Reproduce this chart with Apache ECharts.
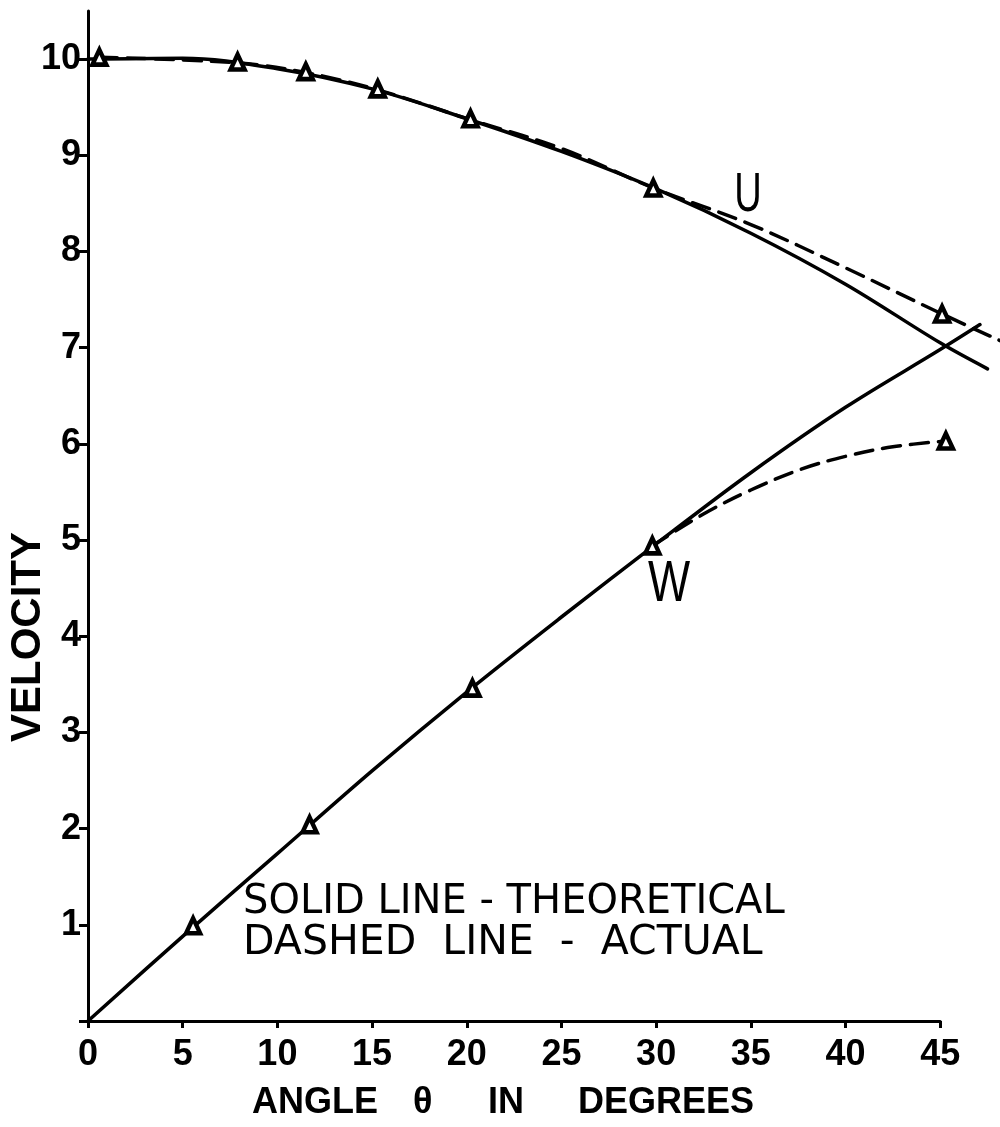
<!DOCTYPE html>
<html>
<head>
<meta charset="utf-8">
<script src="https://cdn.jsdelivr.net/npm/echarts@6/dist/echarts.min.js"></script>
<style>
  html, body { margin: 0; padding: 0; background: #fff; }
  #chart { width: 1000px; height: 1127px; }
</style>
</head>
<body>
<div id="chart"></div>
<script>
// Velocity components U and W against angle θ (degrees)

// theoretical curves (solid)
const uTheoryAngle = [0, 5, 10, 15, 20, 25, 30, 35, 40, 45, 47.5];
const uTheory      = [10.0, 10.01, 9.90, 9.69, 9.38, 9.04, 8.65, 8.19, 7.66, 7.05, 6.78];
const wTheoryAngle = [0, 5, 10, 15, 20, 25, 30, 35, 40, 45, 47.1];
const wTheory      = [0, 0.88, 1.74, 2.60, 3.42, 4.20, 4.96, 5.70, 6.38, 6.98, 7.24];

// measured points (triangles)
const uMeasAngle = [0.6, 7.9, 11.5, 15.3, 20.2, 29.85, 45.1];
const uMeas      = [10.02, 9.97, 9.87, 9.69, 9.38, 8.66, 7.35];
const wMeasAngle = [5.55, 11.7, 20.3, 29.8, 45.3];
const wMeas      = [0.99, 2.04, 3.46, 4.94, 6.03];

// actual curves (dashed) drawn through the measured points
const uActualAngle = [0.6, 7.9, 11.5, 15.3, 20.2, 25, 29.85, 35, 40, 45.1, 48.2];
const uActual      = [10.02, 9.96, 9.86, 9.68, 9.37, 9.07, 8.66, 8.28, 7.83, 7.35, 7.07];
const wActualAngle = [29.8, 32.5, 35, 37.7, 40, 42.5, 45.3];
const wActual      = [4.94, 5.27, 5.52, 5.74, 5.87, 5.97, 6.03];

// axis ranges and ticks
const xTickStep = 5, xLast = 45, xPlotMax = 48;
const yTickStep = 1, yLast = 10, yPlotMax = 10.5;

const zip = (xs, ys) => xs.map((x, i) => [x, ys[i]]);

// plot area in pixels
const PL = 88, PT = 11, PW = 909, PH = 1010;
const pxPerX = PW / xPlotMax, pxPerY = PH / yPlotMax;

const INK = '#000';
const tickFont = { fontFamily: 'Liberation Sans', fontWeight: 'bold', fontSize: 36, color: INK };

const chart = echarts.init(document.getElementById('chart'), null, { renderer: 'canvas' });

const lineSeries = (name, xs, ys, dashed) => ({
  name, type: 'line', xAxisIndex: 0, yAxisIndex: 0,
  data: zip(xs, ys), symbol: 'none', smooth: 0.35, silent: true,
  lineStyle: { color: INK, width: 3.5, type: dashed ? [18, 10] : 'solid', cap: 'round', opacity: 1 },
  z: dashed ? 3 : 4
});
const markSeries = (name, xs, ys) => ({
  name, type: 'scatter', xAxisIndex: 0, yAxisIndex: 0,
  data: zip(xs, ys), symbol: 'triangle', symbolSize: [14, 15], silent: true,
  itemStyle: { color: '#fff', borderColor: INK, borderWidth: 4.5, opacity: 1 }, z: 6
});

const option = {
  animation: false,
  backgroundColor: '#fff',
  grid: [
    // data area
    { left: PL, top: PT, width: PW, height: PH },
    // tick/label frame (0..45, 0..10)
    { left: PL, top: PT + (yPlotMax - yLast) * pxPerY, width: xLast * pxPerX, height: yLast * pxPerY }
  ],
  xAxis: [
    { gridIndex: 0, type: 'value', min: 0, max: xPlotMax, show: false },
    { gridIndex: 1, type: 'value', min: 0, max: xLast, interval: xTickStep,
      axisLine: { show: true, lineStyle: { color: INK, width: 3 } },
      axisTick: { show: true, length: 7, lineStyle: { color: INK, width: 3 } },
      axisLabel: Object.assign({ margin: 16 }, tickFont),
      splitLine: { show: false } },
    { gridIndex: 1, type: 'value', min: 0, max: xLast, interval: xTickStep,
      axisLine: { show: false },
      axisTick: { show: true, inside: true, length: 6, lineStyle: { color: INK, width: 3 } },
      axisLabel: { show: false }, splitLine: { show: false } }
  ],
  yAxis: [
    { gridIndex: 0, type: 'value', min: 0, max: yPlotMax,
      axisLine: { show: true, lineStyle: { color: INK, width: 3 } },
      axisTick: { show: false }, axisLabel: { show: false }, splitLine: { show: false } },
    { gridIndex: 1, type: 'value', min: 0, max: yLast, interval: yTickStep,
      axisLine: { show: false },
      axisTick: { show: true, length: 5, lineStyle: { color: INK, width: 3 } },
      axisLabel: Object.assign({ margin: 7, formatter: v => (v === 0 ? '' : String(v)) }, tickFont),
      splitLine: { show: false } },
    { gridIndex: 1, type: 'value', min: 0, max: yLast, interval: yTickStep,
      axisLine: { show: false },
      axisTick: { show: true, inside: true, length: 9, lineStyle: { color: INK, width: 3 } },
      axisLabel: { show: false }, splitLine: { show: false } }
  ],
  series: [
    lineSeries('U theoretical', uTheoryAngle, uTheory, false),
    lineSeries('W theoretical', wTheoryAngle, wTheory, false),
    lineSeries('U actual', uActualAngle, uActual, true),
    lineSeries('W actual', wActualAngle, wActual, true),
    markSeries('U measured', uMeasAngle, uMeas),
    markSeries('W measured', wMeasAngle, wMeas)
  ],
  graphic: [
    // y axis title
    { type: 'text', x: 28, y: 637, rotation: Math.PI / 2,
      style: { text: 'VELOCITY', x: 0, y: 0, align: 'center', verticalAlign: 'middle',
               font: 'bold 42px "Liberation Sans"', fill: INK } },
    // x axis title, word by word
    { type: 'text', style: { text: 'ANGLE', x: 252, y: 1103, verticalAlign: 'middle', font: 'bold 36px "Liberation Sans"', fill: INK } },
    { type: 'text', style: { text: 'θ', x: 413, y: 1103, verticalAlign: 'middle', font: 'bold 36px "Liberation Sans"', fill: INK } },
    { type: 'text', style: { text: 'IN', x: 488, y: 1103, verticalAlign: 'middle', font: 'bold 36px "Liberation Sans"', fill: INK } },
    { type: 'text', style: { text: 'DEGREES', x: 578, y: 1103, verticalAlign: 'middle', font: 'bold 36px "Liberation Sans"', fill: INK } },
    // curve names
    { type: 'text', x: 748, y: 196, scaleX: 0.68,
      style: { text: 'U', x: 0, y: 0, align: 'center', verticalAlign: 'middle', font: '56px "Liberation Sans"', fill: INK } },
    { type: 'text', x: 669, y: 585, scaleX: 0.77,
      style: { text: 'W', x: 0, y: 0, align: 'center', verticalAlign: 'middle', font: '58px "Liberation Sans"', fill: INK } },
    // key
    { type: 'text', style: { text: 'SOLID LINE - THEORETICAL', x: 243, y: 903, verticalAlign: 'middle', font: '40px "DejaVu Sans"', fill: INK } },
    { type: 'text', style: { text: 'DASHED  LINE  -  ACTUAL', x: 243, y: 943, verticalAlign: 'middle', font: '41px "DejaVu Sans"', fill: INK } }
  ]
};

chart.setOption(option);
</script>
</body>
</html>
